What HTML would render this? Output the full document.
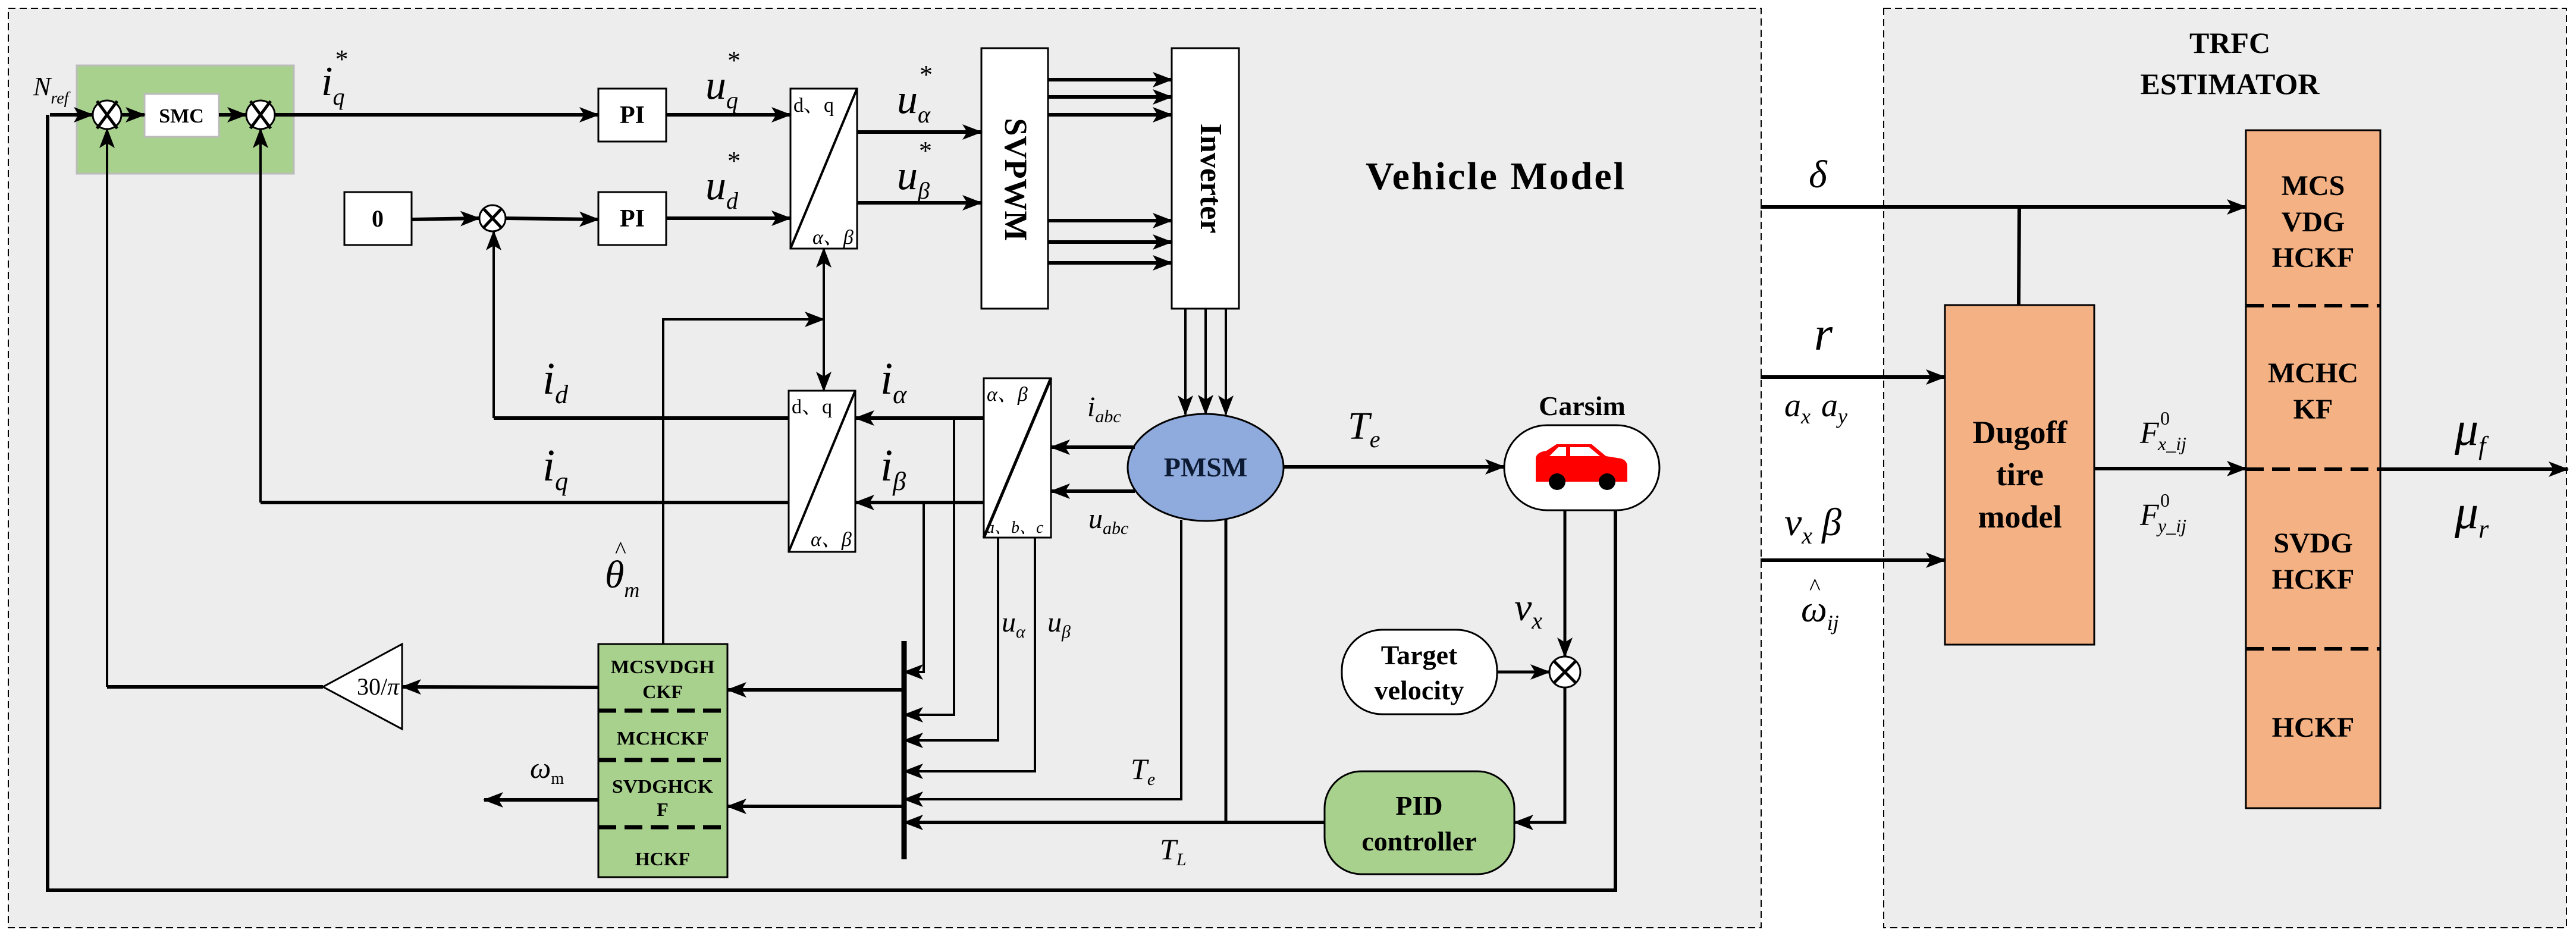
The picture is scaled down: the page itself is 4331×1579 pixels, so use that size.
<!DOCTYPE html>
<html><head><meta charset="utf-8"><style>
html,body{margin:0;padding:0;background:#fff}
svg{display:block}
text{font-family:"Liberation Serif","Noto Serif CJK SC",serif}
.b{font-weight:bold}
.i{font-style:italic}
</style></head><body>
<svg width="4331" height="1579" viewBox="0 0 4331 1579" xmlns="http://www.w3.org/2000/svg">
<defs>
<marker id="a" markerUnits="userSpaceOnUse" markerWidth="34" markerHeight="30" refX="32" refY="15" orient="auto"><path d="M0,2 L34,15 L0,28 L8,15 Z" fill="#000"/></marker>
</defs>
<rect x="14" y="14" width="2947" height="1546" fill="#ededed" stroke="#000" stroke-width="2" stroke-dasharray="12,7"/>
<rect x="3167" y="14" width="1148" height="1546" fill="#ededed" stroke="#000" stroke-width="2" stroke-dasharray="12,7"/>

<g stroke="#000" fill="none">
<rect x="129" y="110" width="365" height="182" fill="#a9d18e" stroke="#bbb" stroke-width="3"/>
<rect x="243" y="158" width="125" height="72" fill="#fff" stroke="#bbb" stroke-width="3"/>
<rect x="1006" y="149" width="114" height="89" fill="#fff" stroke-width="3"/>
<rect x="1006" y="323" width="114" height="89" fill="#fff" stroke-width="3"/>
<rect x="579" y="323" width="113" height="89" fill="#fff" stroke-width="3"/>
<rect x="1329" y="149" width="112" height="269" fill="#fff" stroke-width="3"/>
<line x1="1329" y1="418" x2="1441" y2="149" stroke-width="4"/>
<rect x="1650" y="81" width="112" height="438" fill="#fff" stroke-width="3"/>
<rect x="1970" y="81" width="113" height="438" fill="#fff" stroke-width="3"/>
<rect x="1326" y="657" width="112" height="271" fill="#fff" stroke-width="3"/>
<line x1="1326" y1="928" x2="1438" y2="657" stroke-width="4"/>
<rect x="1654" y="636" width="113" height="268" fill="#fff" stroke-width="3"/>
<line x1="1654" y1="904" x2="1767" y2="636" stroke-width="5"/>
<ellipse cx="2027" cy="786" rx="131" ry="90" fill="#8faadc" stroke-width="3"/>
<rect x="2529" y="715" width="261" height="143" rx="72" fill="#fff" stroke-width="3"/>
<rect x="2256" y="1059" width="261" height="142" rx="68" fill="#fff" stroke-width="3"/>
<rect x="2227" y="1297" width="319" height="173" rx="62" fill="#a9d18e" stroke-width="3"/>
<rect x="1006" y="1083" width="217" height="392" fill="#a9d18e" stroke-width="3"/>
<g stroke-width="7" stroke-dasharray="30,14"><line x1="1006" y1="1195" x2="1223" y2="1195"/><line x1="1006" y1="1278" x2="1223" y2="1278"/><line x1="1006" y1="1391" x2="1223" y2="1391"/></g>
<polygon points="543,1155 676,1083 676,1226" fill="#fff" stroke-width="3"/>
<rect x="3270" y="513" width="251" height="571" fill="#f4b183" stroke-width="3"/>
<rect x="3776" y="219" width="226" height="1140" fill="#f4b183" stroke-width="3"/>
<g stroke-width="6" stroke-dasharray="30,14"><line x1="3776" y1="514" x2="4002" y2="514"/><line x1="3776" y1="789" x2="4002" y2="789"/><line x1="3776" y1="1091" x2="4002" y2="1091"/></g>

<g fill="#fff" stroke-width="3">
<circle cx="180" cy="193" r="24"/><circle cx="438" cy="193" r="24"/><circle cx="828" cy="367" r="22"/><circle cx="2631" cy="1130" r="26"/>
</g>
<g stroke-width="5">
<path d="M163,170 L197,216 M197,170 L163,216 M421,170 L455,216 M455,170 L421,216 M812,350 L844,384 M844,350 L812,384 M2613,1112 L2649,1148 M2649,1112 L2613,1148"/>
</g>

<g stroke-width="6">
<line x1="84" y1="193" x2="156" y2="193" marker-end="url(#a)"/>
<line x1="204" y1="193" x2="243" y2="193" marker-end="url(#a)"/>
<line x1="368" y1="193" x2="414" y2="193" marker-end="url(#a)"/>
<line x1="462" y1="193" x2="1006" y2="193" marker-end="url(#a)"/>
<line x1="1120" y1="193" x2="1329" y2="193" marker-end="url(#a)"/>
<line x1="692" y1="369" x2="806" y2="367" marker-end="url(#a)"/>
<line x1="850" y1="367" x2="1006" y2="369" marker-end="url(#a)"/>
<line x1="1120" y1="367" x2="1329" y2="367" marker-end="url(#a)"/>
<line x1="1441" y1="222" x2="1650" y2="222" marker-end="url(#a)"/>
<line x1="1441" y1="341" x2="1650" y2="341" marker-end="url(#a)"/>
<line x1="1762" y1="134" x2="1970" y2="134" marker-end="url(#a)"/>
<line x1="1762" y1="163" x2="1970" y2="163" marker-end="url(#a)"/>
<line x1="1762" y1="193" x2="1970" y2="193" marker-end="url(#a)"/>
<line x1="1762" y1="371" x2="1970" y2="371" marker-end="url(#a)"/>
<line x1="1762" y1="407" x2="1970" y2="407" marker-end="url(#a)"/>
<line x1="1762" y1="442" x2="1970" y2="442" marker-end="url(#a)"/>
<line x1="1653" y1="703" x2="1438" y2="703" marker-end="url(#a)"/>
<line x1="1653" y1="845" x2="1438" y2="845" marker-end="url(#a)"/>
<line x1="1326" y1="703" x2="830" y2="703"/>
<line x1="1326" y1="845" x2="438" y2="845"/>
<line x1="1908" y1="752" x2="1767" y2="752" marker-end="url(#a)"/>
<line x1="1908" y1="826" x2="1767" y2="826" marker-end="url(#a)"/>
<line x1="2157" y1="785" x2="2529" y2="785" marker-end="url(#a)"/>
<line x1="1520" y1="1160" x2="1223" y2="1160" marker-end="url(#a)"/>
<line x1="1520" y1="1356" x2="1223" y2="1356" marker-end="url(#a)"/>
<line x1="1006" y1="1156" x2="676" y2="1155" marker-end="url(#a)"/>
<line x1="1006" y1="1345" x2="814" y2="1345" marker-end="url(#a)"/>
<line x1="543" y1="1155" x2="180" y2="1155"/>
<polyline points="2716,858 2716,1497 80,1497 80,193"/>
<line x1="1520" y1="1078" x2="1520" y2="1445" stroke-width="9"/>
<line x1="2227" y1="1383" x2="1520" y2="1383" marker-end="url(#a)"/>
<line x1="2960" y1="348" x2="3776" y2="348" marker-end="url(#a)"/>
<line x1="3395" y1="348" x2="3394" y2="513"/>
<line x1="2960" y1="634" x2="3270" y2="634" marker-end="url(#a)"/>
<line x1="2960" y1="942" x2="3270" y2="942" marker-end="url(#a)"/>
<line x1="3521" y1="788" x2="3776" y2="788" marker-end="url(#a)"/>
<line x1="4002" y1="789" x2="4317" y2="789" marker-end="url(#a)"/>
</g>

<g stroke-width="4">
<line x1="180" y1="1155" x2="180" y2="217" marker-end="url(#a)"/>
<line x1="438" y1="845" x2="438" y2="217" marker-end="url(#a)"/>
<line x1="830" y1="703" x2="830" y2="389" marker-end="url(#a)"/>
<line x1="1385" y1="540" x2="1385" y2="418" marker-end="url(#a)"/>
<line x1="1385" y1="540" x2="1385" y2="657" marker-end="url(#a)"/>
<polyline points="1115,1083 1115,537 1385,537" marker-end="url(#a)"/>
<line x1="1993" y1="519" x2="1993" y2="697" marker-end="url(#a)"/>
<line x1="2027" y1="519" x2="2027" y2="696" marker-end="url(#a)"/>
<line x1="2061" y1="519" x2="2061" y2="697" marker-end="url(#a)"/>
<polyline points="1553,845 1553,1130 1520,1130" marker-end="url(#a)"/>
<polyline points="1604,703 1604,1202 1520,1202" marker-end="url(#a)"/>
<polyline points="1678,904 1678,1245 1520,1245" marker-end="url(#a)"/>
<polyline points="1740,904 1740,1297 1520,1297" marker-end="url(#a)"/>
<polyline points="1986,874 1986,1344 1520,1344" marker-end="url(#a)"/>
<line x1="2061" y1="874" x2="2061" y2="1383" stroke-width="5"/>
<line x1="2631" y1="858" x2="2631" y2="1104" stroke-width="5" marker-end="url(#a)"/>
<line x1="2517" y1="1130" x2="2605" y2="1130" stroke-width="5" marker-end="url(#a)"/>
<polyline points="2631,1156 2631,1383 2546,1383" stroke-width="5" marker-end="url(#a)"/>
</g>
</g>

<g fill="#f00">
<path d="M2582,790 L2582,770 Q2584,760 2600,758 L2617,747 L2676,747 L2700,767 L2725,771 Q2736,774 2736,785 L2736,810 L2582,810 Z"/>
<path d="M2620,752 L2633,752 L2633,767 L2605,767 Z M2640,752 L2672,752 L2690,767 L2640,767 Z" fill="#fff"/>
</g>
<circle cx="2618" cy="810" r="14" fill="#000"/><circle cx="2702" cy="810" r="14" fill="#000"/>

<g class="b" text-anchor="middle">
<text x="305" y="206" font-size="34">SMC</text>
<text x="1063" y="207" font-size="42">PI</text>
<text x="1063" y="381" font-size="42">PI</text>
<text x="635" y="381" font-size="40">0</text>
<text transform="translate(1690,302) rotate(90)" font-size="54">SVPWM</text>
<text transform="translate(2019,300) rotate(90)" font-size="52">Inverter</text>
<text x="2027" y="801" font-size="46" fill="#0d1a33">PMSM</text>
<text x="2660" y="698" font-size="46">Carsim</text>
<text x="2386" y="1117" font-size="46">Target</text>
<text x="2386" y="1176" font-size="46">velocity</text>
<text x="2386" y="1370" font-size="46">PID</text>
<text x="2386" y="1430" font-size="46">controller</text>
<text x="2515" y="318" font-size="66" letter-spacing="3">Vehicle Model</text>
<text x="3749" y="89" font-size="50">TRFC</text>
<text x="3749" y="158" font-size="50">ESTIMATOR</text>
<text x="3396" y="745" font-size="54">Dugoff</text>
<text x="3396" y="816" font-size="54">tire</text>
<text x="3396" y="887" font-size="54">model</text>
<g font-size="48">
<text x="3889" y="328">MCS</text><text x="3889" y="389">VDG</text><text x="3889" y="449">HCKF</text>
<text x="3889" y="643">MCHC</text><text x="3889" y="704">KF</text>
<text x="3889" y="929">SVDG</text><text x="3889" y="990">HCKF</text>
<text x="3889" y="1239">HCKF</text>
</g>
<g font-size="32">
<text x="1114" y="1132" textLength="175" lengthAdjust="spacingAndGlyphs">MCSVDGH</text>
<text x="1114" y="1174">CKF</text>
<text x="1114" y="1252" textLength="155" lengthAdjust="spacingAndGlyphs">MCHCKF</text>
<text x="1114" y="1333" textLength="170" lengthAdjust="spacingAndGlyphs">SVDGHCK</text>
<text x="1114" y="1372">F</text>
<text x="1114" y="1455">HCKF</text>
</g>
</g>

<g font-size="34">
<text x="1334" y="188">d、q</text>
<text x="1366" y="410" class="i">α、β</text>
<text x="1331" y="695">d、q</text>
<text x="1363" y="918" class="i">α、β</text>
<text x="1659" y="674" class="i">α、β</text>
<text x="1658" y="896" font-size="28" class="i">a、b、c</text>
<text x="600" y="1168" font-size="40">30/<tspan class="i">π</tspan></text>
</g>

<g class="i">
<text x="56" y="160" font-size="44">N<tspan font-size="28" dy="14">ref</tspan></text>
<text x="540" y="160" font-size="70">i<tspan font-size="40" dy="16">q</tspan><tspan font-size="44" dx="-18" dy="-62">*</tspan></text>
<text x="1186" y="166" font-size="70">u<tspan font-size="40" dy="16">q</tspan><tspan font-size="44" dx="-20" dy="-66">*</tspan></text>
<text x="1186" y="335" font-size="70">u<tspan font-size="40" dy="16">d</tspan><tspan font-size="44" dx="-20" dy="-66">*</tspan></text>
<text x="1508" y="190" font-size="70">u<tspan font-size="40" dy="16">α</tspan><tspan font-size="44" dx="-20" dy="-66">*</tspan></text>
<text x="1508" y="318" font-size="70">u<tspan font-size="40" dy="16">β</tspan><tspan font-size="44" dx="-20" dy="-66">*</tspan></text>
<text x="912" y="662" font-size="76">i<tspan font-size="44" dy="16">d</tspan></text>
<text x="912" y="808" font-size="76">i<tspan font-size="44" dy="16">q</tspan></text>
<text x="1480" y="662" font-size="76">i<tspan font-size="44" dy="16">α</tspan></text>
<text x="1480" y="808" font-size="76">i<tspan font-size="44" dy="16">β</tspan></text>
<text x="1828" y="700" font-size="48">i<tspan font-size="30" dy="10">abc</tspan></text>
<text x="1830" y="888" font-size="48">u<tspan font-size="30" dy="10">abc</tspan></text>
<text x="1017" y="988" font-size="66">θ<tspan font-size="36" dy="16">m</tspan></text>
<text x="1034" y="938" font-size="40" font-style="normal">^</text>
<text x="1684" y="1062" font-size="48">u<tspan font-size="30" dy="10">α</tspan></text>
<text x="1761" y="1062" font-size="48">u<tspan font-size="30" dy="10">β</tspan></text>
<text x="1901" y="1310" font-size="50">T<tspan font-size="30" dy="10">e</tspan></text>
<text x="1950" y="1445" font-size="50">T<tspan font-size="30" dy="10">L</tspan></text>
<text x="891" y="1308" font-size="50">ω<tspan font-size="28" dy="10" font-style="normal">m</tspan></text>
<text x="2266" y="738" font-size="66">T<tspan font-size="40" dy="14">e</tspan></text>
<text x="2546" y="1043" font-size="66">v<tspan font-size="40" dy="14">x</tspan></text>
<text x="3041" y="315" font-size="66">δ</text>
<text x="3050" y="588" font-size="80">r</text>
<text x="3000" y="700" font-size="56">a<tspan font-size="36" dy="12">x</tspan><tspan dx="18" dy="-12">a</tspan><tspan font-size="36" dy="12">y</tspan></text>
<text x="3000" y="900" font-size="66">v<tspan font-size="40" dy="14">x</tspan><tspan dx="16" dy="-14">β</tspan></text>
<text x="3028" y="1045" font-size="62">ω<tspan font-size="36" dy="14">ij</tspan></text>
<text x="3042" y="1000" font-size="40" font-style="normal">^</text>
<text x="3598" y="745" font-size="52">F</text>
<text x="3628" y="757" font-size="32">x_ij</text>
<text x="3632" y="714" font-size="32" font-style="normal">0</text>
<text x="3598" y="883" font-size="52">F</text>
<text x="3628" y="895" font-size="32">y_ij</text>
<text x="3632" y="852" font-size="32" font-style="normal">0</text>
<text x="4127" y="748" font-size="80">μ<tspan font-size="44" dy="16">f</tspan></text>
<text x="4127" y="888" font-size="80">μ<tspan font-size="44" dy="16">r</tspan></text>
</g>
</svg>
</body></html>
